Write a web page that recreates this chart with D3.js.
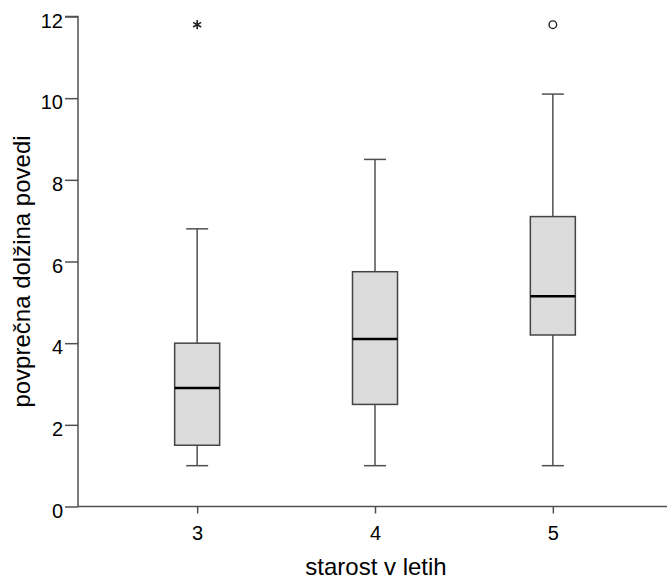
<!DOCTYPE html>
<html>
<head>
<meta charset="utf-8">
<script src="https://cdn.jsdelivr.net/npm/d3@7"></script>
<style>
body{margin:0;background:#fff;}
text{font-family:Arial,"Liberation Sans",sans-serif;fill:#000;}
</style>
</head>
<body>
<svg id="chart" width="667" height="580"></svg>
<script>
const categories = ["3","4","5"];
const whiskerLow = [1.0, 1.0, 1.0];
const q1 = [1.5, 2.5, 4.2];
const median = [2.9, 4.1, 5.15];
const q3 = [4.0, 5.75, 7.1];
const whiskerHigh = [6.8, 8.5, 10.1];
const extremes = [11.8, null, null];   // drawn as *
const outliers = [null, null, 11.8];   // drawn as o
const yTicks = [0, 2, 4, 6, 8, 10, 12];
const xTitle = "starost v letih";
const yTitle = "povprečna dolžina povedi";

(function(){
const svg = d3.select("#chart");
const plotLeft = 78, plotBottom = 506.5, plotTop = 16.5;
const y = d3.scaleLinear().domain([0, 12]).range([plotBottom, plotTop]);
const x = d3.scalePoint().domain(categories).range([plotLeft, 672]).padding(0.67);
const boxW = 45, capW = 22;
const stroke = "#505050";
const ff = "Arial, 'Liberation Sans', sans-serif";

// axes
const yAxis = d3.axisLeft(y).tickValues(yTicks).tickSize(13).tickPadding(2).tickFormat(d3.format("d"));
const gy = svg.append("g").attr("transform", `translate(${plotLeft},0)`).call(yAxis);
gy.select(".domain").attr("stroke", stroke).attr("stroke-width", 1.5).attr("d", `M-13,${plotTop}H0V${plotBottom}`);
gy.selectAll(".tick line").attr("stroke", stroke).attr("stroke-width", 1.5);
gy.selectAll(".tick text").attr("font-size", 20).attr("font-family", ff).attr("dy", "0.53em");

const xAxis = d3.axisBottom(x).tickSize(7).tickPadding(12);
const gx = svg.append("g").attr("transform", `translate(0,${plotBottom})`).call(xAxis);
gx.select(".domain").attr("stroke", stroke).attr("stroke-width", 1.5).attr("d", `M${plotLeft},0H667`);
gx.selectAll(".tick line").attr("stroke", stroke).attr("stroke-width", 1.5);
gx.selectAll(".tick text").attr("font-size", 20).attr("font-family", ff);

// titles
svg.append("text").attr("x", 376).attr("y", 575).attr("text-anchor", "middle")
  .attr("font-size", 24).text(xTitle);
svg.append("text").attr("transform", `translate(30,${(plotTop + plotBottom) / 2 + 10}) rotate(-90)`)
  .attr("text-anchor", "middle").attr("font-size", 24).text(yTitle);

// boxes
const data = categories.map((c, i) => ({c, lo: whiskerLow[i], q1: q1[i], med: median[i], q3: q3[i], hi: whiskerHigh[i], ext: extremes[i], out: outliers[i]}));
const g = svg.append("g");
data.forEach(d => {
  const cx = x(d.c);
  g.append("line").attr("x1", cx).attr("x2", cx).attr("y1", y(d.q3)).attr("y2", y(d.hi)).attr("stroke", stroke).attr("stroke-width", 1.5);
  g.append("line").attr("x1", cx).attr("x2", cx).attr("y1", y(d.q1)).attr("y2", y(d.lo)).attr("stroke", stroke).attr("stroke-width", 1.5);
  g.append("line").attr("x1", cx - capW / 2).attr("x2", cx + capW / 2).attr("y1", y(d.hi)).attr("y2", y(d.hi)).attr("stroke", stroke).attr("stroke-width", 1.5);
  g.append("line").attr("x1", cx - capW / 2).attr("x2", cx + capW / 2).attr("y1", y(d.lo)).attr("y2", y(d.lo)).attr("stroke", stroke).attr("stroke-width", 1.5);
  g.append("rect").attr("x", cx - boxW / 2).attr("y", y(d.q3)).attr("width", boxW).attr("height", y(d.q1) - y(d.q3))
    .attr("fill", "#dcdcdc").attr("stroke", "#444").attr("stroke-width", 1.5);
  g.append("line").attr("x1", cx - boxW / 2).attr("x2", cx + boxW / 2).attr("y1", y(d.med)).attr("y2", y(d.med)).attr("stroke", "#000").attr("stroke-width", 2.5);
  if (d.ext != null) {
    g.append("path").attr("d", d3.symbol(d3.symbolAsterisk, 60)()).attr("transform", `translate(${cx},${y(d.ext)})`)
      .attr("fill", "none").attr("stroke", "#222").attr("stroke-width", 1.6);
  }
  if (d.out != null) {
    g.append("circle").attr("cx", cx).attr("cy", y(d.out)).attr("r", 3.8).attr("fill", "none").attr("stroke", "#222").attr("stroke-width", 1.4);
  }
});
})();
</script>
</body>
</html>
